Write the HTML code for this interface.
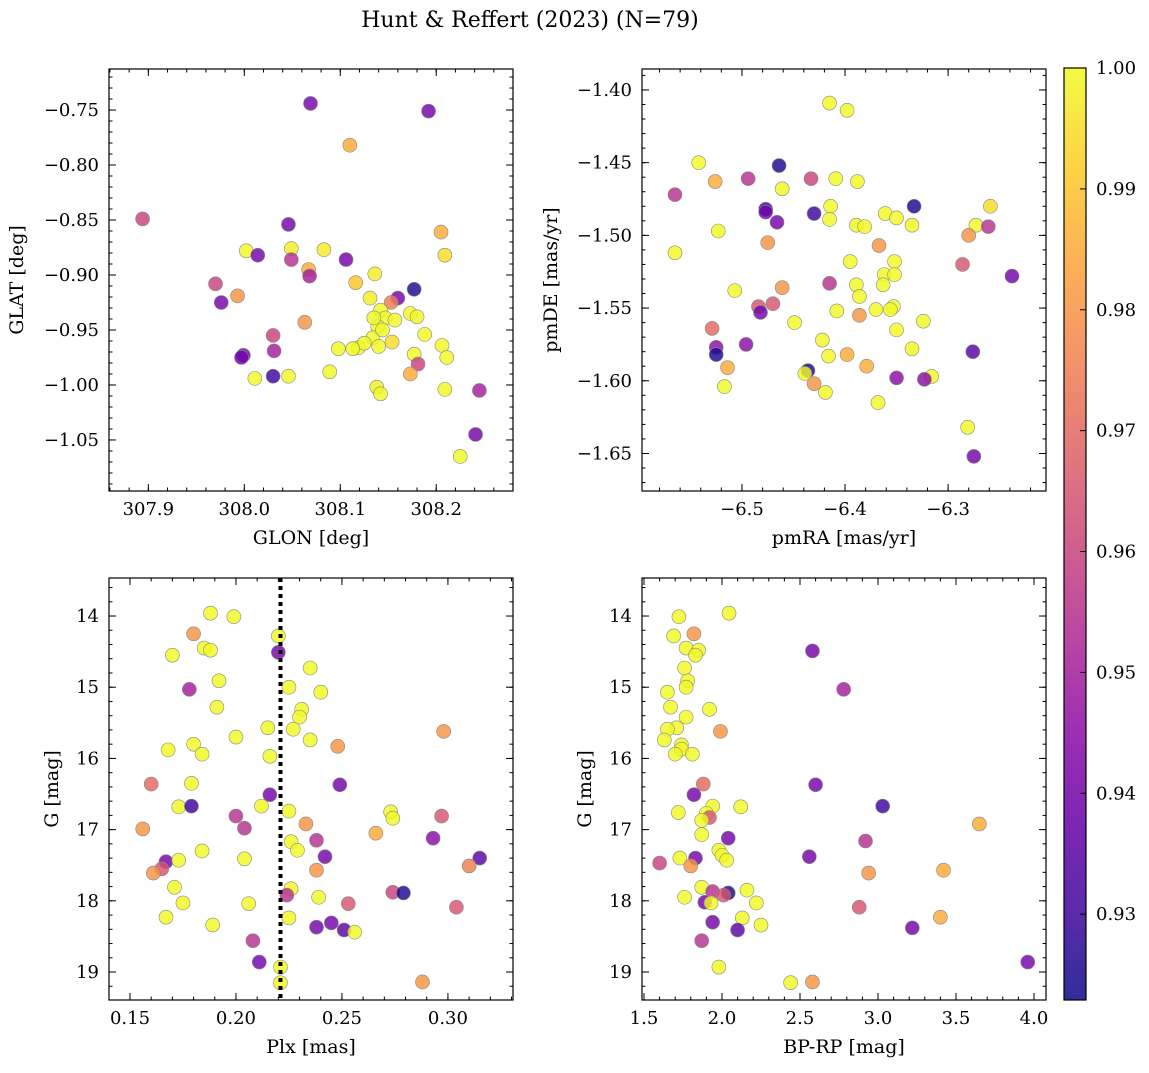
<!DOCTYPE html>
<html><head><meta charset="utf-8">
<style>
body{margin:0;background:#fff;}
svg text{font-family:"DejaVu Serif","Liberation Serif",serif;fill:#000;}
</style></head>
<body>
<svg id="fig" width="1149" height="1068" xmlns="http://www.w3.org/2000/svg">
<text x="530" y="27" font-size="22" text-anchor="middle">Hunt &amp; Reffert (2023) (N=79)</text>
</svg>
<script>
// ---- Panel 1: GLON / GLAT ----
const glon=[308.069,308.192,308.110,307.894,308.046,308.205,308.002,308.014,308.049,308.083,308.209,308.106,308.049,307.970,308.067,308.068,308.116,308.136,307.993,307.976,308.177,308.160,308.131,308.153,308.142,308.147,308.139,308.157,308.173,308.180,308.063,308.134,308.144,308.188,308.154,308.140,308.030,308.098,308.119,308.125,307.999,307.997,308.031,308.206,308.177,308.211,308.181,308.011,308.030,308.046,308.089,308.173,308.138,308.142,308.209,308.245,308.241,308.225,308.113,308.135];
const glat=[-0.744,-0.751,-0.782,-0.849,-0.854,-0.861,-0.878,-0.882,-0.876,-0.877,-0.882,-0.886,-0.886,-0.908,-0.895,-0.901,-0.907,-0.899,-0.919,-0.925,-0.913,-0.921,-0.921,-0.925,-0.932,-0.939,-0.947,-0.941,-0.935,-0.938,-0.943,-0.957,-0.950,-0.954,-0.961,-0.965,-0.955,-0.967,-0.966,-0.962,-0.973,-0.975,-0.969,-0.964,-0.972,-0.975,-0.981,-0.994,-0.992,-0.992,-0.988,-0.990,-1.002,-1.008,-1.004,-1.005,-1.045,-1.065,-0.967,-0.939];
const prob1=[0.94,0.94,0.985,0.96,0.94,0.985,1.0,0.94,0.998,0.998,0.995,0.94,0.955,0.96,0.985,0.95,0.99,0.998,0.98,0.94,0.925,0.94,0.998,0.975,1,1,1,1,1,1,0.98,1,1,1,0.995,1,0.96,1,1,1,0.94,0.94,0.95,1,1,1,0.96,1,0.93,1,1,0.985,0.998,1,1,0.95,0.94,1,1,1];
// ---- Panel 2: pmRA / pmDE ----
const pmra=[-6.415,-6.398,-6.542,-6.464,-6.565,-6.526,-6.494,-6.433,-6.409,-6.388,-6.461,-6.333,-6.259,-6.477,-6.477,-6.430,-6.414,-6.361,-6.350,-6.466,-6.415,-6.389,-6.381,-6.335,-6.273,-6.261,-6.523,-6.280,-6.475,-6.367,-6.565,-6.395,-6.352,-6.286,-6.362,-6.352,-6.238,-6.415,-6.363,-6.389,-6.461,-6.507,-6.386,-6.484,-6.470,-6.482,-6.353,-6.408,-6.370,-6.356,-6.386,-6.449,-6.324,-6.529,-6.350,-6.422,-6.496,-6.525,-6.335,-6.276,-6.525,-6.416,-6.398,-6.514,-6.379,-6.436,-6.439,-6.316,-6.323,-6.350,-6.430,-6.517,-6.419,-6.368,-6.281,-6.275];
const pmde=[-1.409,-1.414,-1.450,-1.452,-1.472,-1.463,-1.461,-1.461,-1.461,-1.463,-1.468,-1.480,-1.480,-1.482,-1.484,-1.485,-1.480,-1.485,-1.488,-1.491,-1.489,-1.493,-1.494,-1.493,-1.493,-1.494,-1.497,-1.500,-1.505,-1.507,-1.512,-1.518,-1.518,-1.520,-1.527,-1.527,-1.528,-1.533,-1.534,-1.534,-1.536,-1.538,-1.542,-1.549,-1.547,-1.553,-1.549,-1.552,-1.551,-1.551,-1.555,-1.560,-1.559,-1.564,-1.565,-1.572,-1.575,-1.577,-1.578,-1.580,-1.582,-1.583,-1.582,-1.591,-1.590,-1.593,-1.595,-1.597,-1.599,-1.598,-1.602,-1.604,-1.608,-1.615,-1.632,-1.652];
const prob2=[1,1,1,0.925,0.955,0.985,0.955,0.96,1,1,1,0.925,0.995,0.93,0.94,0.93,1,1,1,0.94,1,1,1,1,1,0.955,1,0.98,0.98,0.98,1,1,1,0.965,1,1,0.94,0.955,1,1,0.98,1,1,0.965,0.965,0.94,1,1,1,1,0.98,1,1,0.97,1,1,0.945,0.945,1,0.935,0.925,1,0.985,0.985,0.985,0.925,1,1,0.945,0.945,0.98,1,1,1,1,0.94];
// ---- Panel 3: Plx / G ----
const plx=[0.188,0.199,0.180,0.220,0.185,0.188,0.170,0.220,0.235,0.192,0.225,0.178,0.240,0.191,0.231,0.230,0.215,0.227,0.298,0.200,0.235,0.180,0.168,0.248,0.184,0.216,0.160,0.179,0.249,0.216,0.212,0.173,0.179,0.225,0.273,0.200,0.297,0.274,0.204,0.233,0.156,0.266,0.293,0.238,0.226,0.229,0.184,0.242,0.315,0.204,0.167,0.165,0.173,0.310,0.238,0.161,0.171,0.274,0.279,0.226,0.224,0.239,0.175,0.206,0.253,0.304,0.167,0.225,0.245,0.189,0.238,0.251,0.256,0.208,0.211,0.221,0.288,0.221];
const gmag3=[13.96,14.01,14.25,14.28,14.45,14.48,14.55,14.51,14.73,14.91,15.0,15.03,15.07,15.28,15.31,15.42,15.57,15.59,15.62,15.70,15.74,15.80,15.88,15.83,15.94,15.97,16.36,16.35,16.37,16.51,16.67,16.68,16.67,16.74,16.75,16.81,16.81,16.84,16.98,16.92,16.99,17.05,17.12,17.15,17.17,17.29,17.30,17.38,17.40,17.41,17.45,17.55,17.43,17.51,17.57,17.61,17.81,17.88,17.89,17.83,17.92,17.95,18.03,18.04,18.04,18.09,18.23,18.24,18.31,18.34,18.37,18.41,18.44,18.56,18.86,18.93,19.14,19.15];
const prob3=[1,1,0.98,1,1,1,1,0.94,1,1,1,0.95,1,1,1,1,1,1,0.98,1,1,1,1,0.98,1,1,0.97,1,0.94,0.94,1,1,0.93,1,1,0.955,0.965,1,0.955,0.98,0.98,0.985,0.945,0.955,1,1,1,0.94,0.935,1,0.94,0.965,1,0.975,0.98,0.98,1,0.96,0.925,1,0.955,1,1,1,0.965,0.965,1,1,0.94,1,0.94,0.935,1,0.955,0.94,1,0.98,1];
const plxRef=[0.221];
// ---- Panel 4: BP-RP / G ----
const bprp=[2.045,1.724,1.82,1.69,2.58,1.77,1.85,1.83,1.76,1.78,1.77,2.78,1.65,1.67,1.92,1.77,1.71,1.65,1.99,1.63,1.74,1.74,1.70,1.81,2.60,1.88,1.82,1.94,2.12,3.03,1.72,1.90,1.92,1.87,3.65,2.04,2.92,1.87,1.98,2.00,2.56,1.73,1.83,2.03,1.60,1.80,3.42,2.94,1.76,1.87,2.16,1.94,2.04,1.89,2.01,1.93,2.22,2.88,2.13,3.40,1.94,2.25,2.10,3.22,1.87,3.96,1.98,2.58,2.44];
const gmag4=[13.96,14.01,14.25,14.28,14.49,14.45,14.48,14.55,14.73,14.91,15.0,15.03,15.07,15.28,15.31,15.42,15.57,15.59,15.62,15.74,15.81,15.87,15.94,15.94,16.37,16.36,16.51,16.67,16.68,16.67,16.76,16.77,16.83,16.87,16.92,17.12,17.16,17.07,17.29,17.36,17.38,17.40,17.40,17.43,17.47,17.51,17.57,17.61,17.95,17.81,17.85,17.87,17.89,18.02,17.92,18.03,18.03,18.09,18.24,18.23,18.30,18.34,18.41,18.38,18.56,18.86,18.93,19.14,19.15];
const prob4=[1,1,0.98,1,0.94,1,1,1,1,1,1,0.95,1,1,1,1,1,1,0.98,1,1,1,1,1,0.94,0.97,0.94,1,1,0.93,1,1,0.965,1,0.985,0.94,0.955,1,1,1,0.94,1,0.94,1,0.96,0.98,0.985,0.98,1,1,1,0.955,0.925,0.94,0.965,1,1,0.965,1,0.985,0.94,1,0.935,0.94,0.955,0.94,1,0.98,1];
const cbTicks=[0.93,0.94,0.95,0.96,0.97,0.98,0.99,1.00];
const VMIN=0.9229, VMAX=1.0;

const NS="http://www.w3.org/2000/svg";
const svg=document.getElementById('fig');
function mk(tag,attrs,parent){const e=document.createElementNS(NS,tag);for(const k in attrs)e.setAttribute(k,attrs[k]);(parent||svg).appendChild(e);return e;}
const plasma=[[13,8,135],[65,4,157],[106,0,168],[143,13,164],[177,42,144],[204,71,120],[225,100,98],[242,132,75],[252,166,54],[252,206,37],[240,249,33]];
function cmap(v){let t=(v-VMIN)/(VMAX-VMIN);t=Math.max(0,Math.min(1,t))*10;const i=Math.min(9,Math.floor(t)),f=t-i;const a=plasma[i],b=plasma[i+1];return 'rgb('+[0,1,2].map(k=>Math.round(a[k]+(b[k]-a[k])*f)).join(',')+')';}
function fmt(v,d){let s=v.toFixed(d);return s.replace('-','\u2212');}
const TF=18, LF=19;

function panel(name,box,xr,yr,xMaj,xMin,yMaj,yMin,xd,yd,xlabel,ylabel,xs,ys,ps,ylx){
  const [L,T,R,B]=box;
  const X=v=>L+(v-xr[0])/(xr[1]-xr[0])*(R-L);
  const Y=v=>B-(v-yr[0])/(yr[1]-yr[0])*(B-T);
  const g=mk('g',{});
  
  
  const clip=mk('clipPath',{id:'c'+name},g);mk('rect',{x:L,y:T,width:R-L,height:B-T},clip);
  const pts=mk('g',{'clip-path':'url(#c'+name+')'},g);
  for(let i=0;i<xs.length;i++){
    const c=mk('circle',{cx:X(xs[i]),cy:Y(ys[i]),r:7,fill:cmap(ps[i]),'fill-opacity':0.82,stroke:'#888','stroke-width':0.6},pts);
    
    
  }
  const ax=mk('g',{stroke:'#000','stroke-width':1},g);
  mk('rect',{x:L,y:T,width:R-L,height:B-T,fill:'none','stroke-width':1.2},ax);
  function ticks(a0,a1,step,len,isX,label,d){
    const s=Math.ceil(Math.min(a0,a1)/step-1e-6);const e=Math.floor(Math.max(a0,a1)/step+1e-6);
    for(let k=s;k<=e;k++){const v=k*step;
      if(isX){const x=X(v);mk('line',{x1:x,y1:B,x2:x,y2:B-len},ax);mk('line',{x1:x,y1:T,x2:x,y2:T+len},ax);
        if(label){const t=mk('text',{x:x,y:B+24,'font-size':TF,'text-anchor':'middle',stroke:'none'},g);t.textContent=fmt(v,d);}}
      else{const y=Y(v);mk('line',{x1:L,y1:y,x2:L+len,y2:y},ax);mk('line',{x1:R,y1:y,x2:R-len,y2:y},ax);
        if(label){const t=mk('text',{x:L-10,y:y+6,'font-size':TF,'text-anchor':'end',stroke:'none'},g);t.textContent=fmt(v,d);}}
    }
  }
  ticks(xr[0],xr[1],xMin,3.5,true,false);
  ticks(xr[0],xr[1],xMaj,7,true,true,xd);
  ticks(yr[0],yr[1],yMin,3.5,false,false);
  ticks(yr[0],yr[1],yMaj,7,false,true,yd);
  const xl=mk('text',{x:(L+R)/2,y:B+53,'font-size':LF,'text-anchor':'middle'},g);xl.textContent=xlabel;
  
  const yx=ylx,yy=(T+B)/2;
  const yl=mk('text',{x:yx,y:yy,'font-size':LF,'text-anchor':'middle',transform:'rotate(-90 '+yx+' '+yy+')'},g);yl.textContent=ylabel;
  
  return {X,Y,g};
}
panel('glon-glat',[109,69,513,491],[307.859,308.280],[-1.0964,-0.7127],0.1,0.02,0.05,0.01,1,2,'GLON [deg]','GLAT [deg]',glon,glat,prob1,23);
panel('pm',[642,69,1046,491],[-6.597,-6.205],[-1.6758,-1.3856],0.1,0.02,0.05,0.01,1,2,'pmRA [mas/yr]','pmDE [mas/yr]',pmra,pmde,prob2,557);
const p3=panel('plx-g',[109,578,513,1000],[0.1401,0.3307],[19.393,13.466],0.05,0.01,1,0.2,2,0,'Plx [mas]','G [mag]',plx,gmag3,prob3,58);
const dl=mk('line',{x1:p3.X(plxRef[0]),y1:578,x2:p3.X(plxRef[0]),y2:1000,stroke:'#000','stroke-width':4,'stroke-dasharray':'4,4'});


panel('cmd',[642,578,1046,1000],[1.4872,4.077],[19.393,13.466],0.5,0.1,1,0.2,1,0,'BP-RP [mag]','G [mag]',bprp,gmag4,prob4,591);
// colorbar
const cb=mk('g',{});


const defs=mk('defs',{},cb);
const lg=mk('linearGradient',{id:'plg',x1:0,y1:1,x2:0,y2:0},defs);
for(let i=0;i<=10;i++){mk('stop',{offset:i/10,'stop-color':'rgb('+plasma[i].join(',')+')'},lg);}
const CT=68,CB=1000,CL=1064,CR=1086;
mk('rect',{x:CL,y:CT,width:CR-CL,height:CB-CT,fill:'url(#plg)','fill-opacity':0.85,stroke:'#000','stroke-width':1.2},cb);
const CY=v=>CB-(v-VMIN)/(VMAX-VMIN)*(CB-CT);
cbTicks.forEach(v=>{const y=CY(v);mk('line',{x1:CR,y1:y,x2:CR-6,y2:y,stroke:'#000'},cb);
  const t=mk('text',{x:CR+10,y:y+6,'font-size':TF},cb);t.textContent=v.toFixed(2);
  
  });
</script>
</body></html>
